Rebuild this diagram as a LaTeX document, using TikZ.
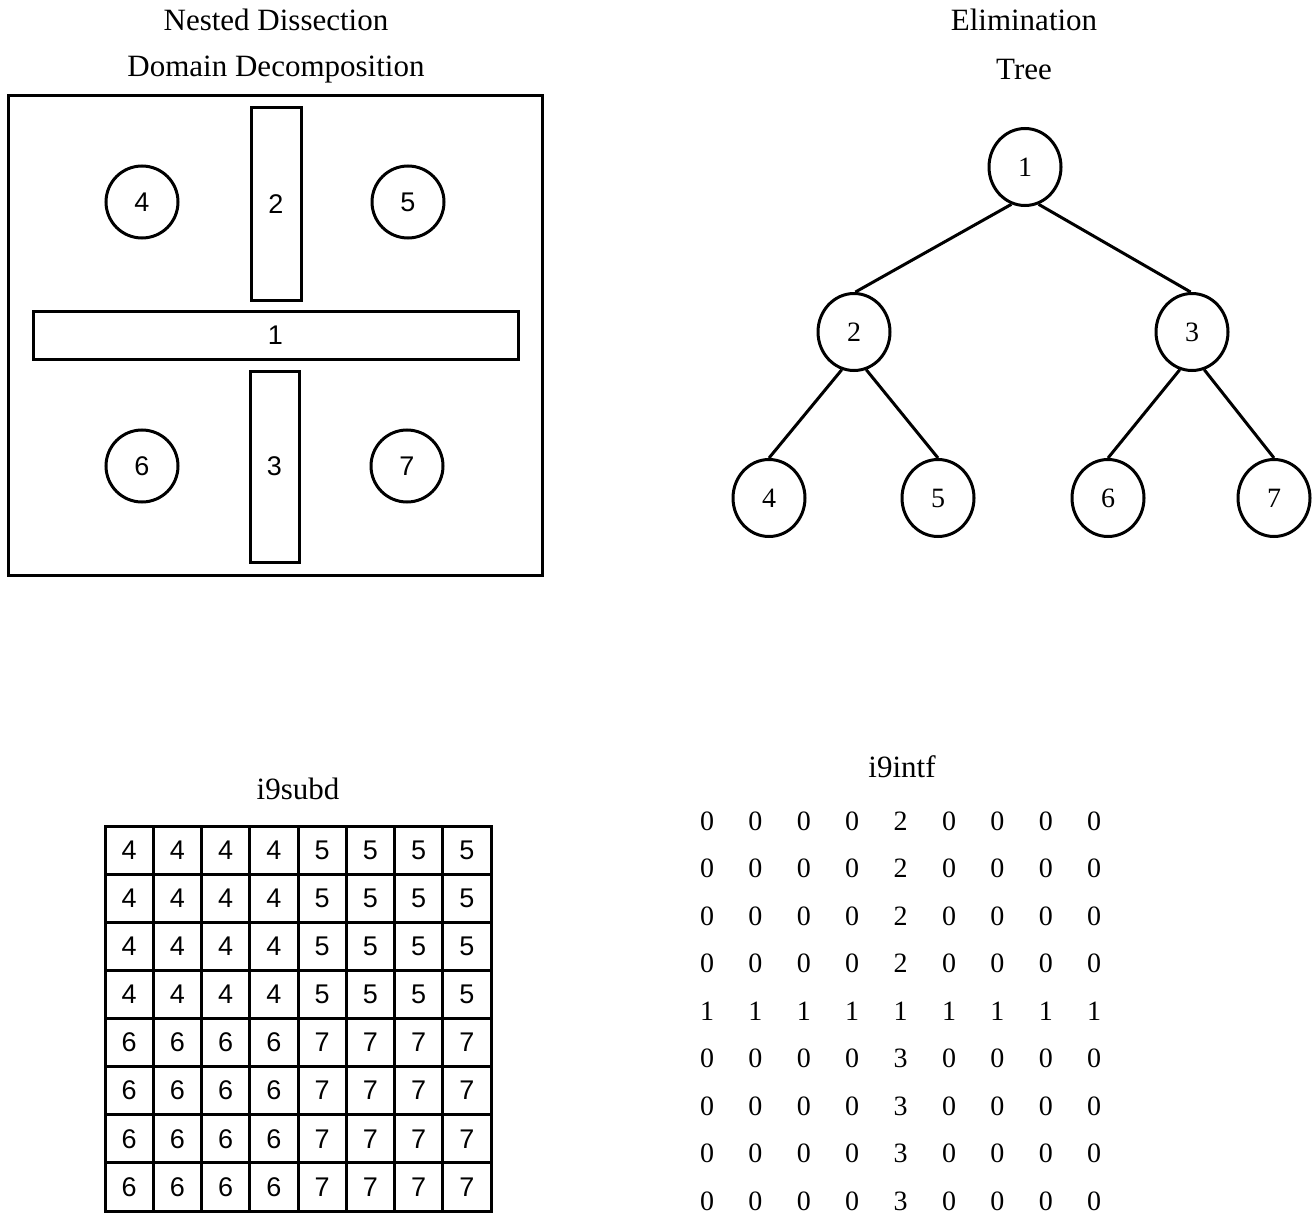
\documentclass[tikz,border=0pt]{standalone}
\usepackage{fontspec}
\setmainfont{Liberation Serif}
\newfontfamily\digsans{Liberation Sans}
\usetikzlibrary{shapes.geometric}
\begin{document}
\begin{tikzpicture}[x=1pt,y=-1pt,
  lw/.style={line width=3pt},
  ttl/.style={font=\fontsize{31}{36}\selectfont},
  lab/.style={font=\fontsize{28}{32}\selectfont},
  slab/.style={font=\digsans\fontsize{27}{30}\selectfont},
  dom/.style={draw,lw,circle,minimum size=72pt,inner sep=0pt,slab},
  sep/.style={draw,lw,rectangle,inner sep=0pt,slab},
  tnode/.style={draw,lw,ellipse,minimum width=72pt,minimum height=77pt,inner sep=0pt,lab},
  edge/.style={lw}]
\useasboundingbox (0,0) rectangle (1315,1217);
% titles
\node[ttl] (t1) at (276,20) {Nested Dissection};
\node[ttl] (t2) at (276,70) {Domain Decomposition};
\node[ttl] (t3) at (1024,20) {Elimination};
\node[ttl] (t4) at (1024,70) {Tree};
% domain decomposition
\node[draw,lw,rectangle,minimum width=534pt,minimum height=479pt,inner sep=0pt] (box) at (275,335.5) {};
\node[sep,minimum width=50pt,minimum height=192pt] (s2) at (276,204) {2};
\node[sep,minimum width=485pt,minimum height=48pt] (s1) at (275.5,335) {1};
\node[sep,minimum width=49pt,minimum height=191pt] (s3) at (274.5,466.5) {3};
\node[dom] (d4) at (142,202) {4};
\node[dom] (d5) at (408,202) {5};
\node[dom] (d6) at (142,466) {6};
\node[dom] (d7) at (407,466) {7};
% elimination tree
\node[tnode] (n1) at (1025,167) {1};
\node[tnode] (n2) at (854,332) {2};
\node[tnode] (n3) at (1192,332) {3};
\node[tnode] (n4) at (769,498) {4};
\node[tnode] (n5) at (938,498) {5};
\node[tnode] (n6) at (1108,498) {6};
\node[tnode] (n7) at (1274,498) {7};
\draw[edge] (n1.250) -- (n2.88);
\draw[edge] (n1.290) -- (n3.92);
\draw[edge] (n2.252) -- (n4.north);
\draw[edge] (n2.288) -- (n5.north);
\draw[edge] (n3.252) -- (n6.north);
\draw[edge] (n3.288) -- (n7.north);
% i9subd
\node[ttl] (t5) at (298,789) {i9subd};
\draw[lw] (105,826) rectangle (491,1211);
\foreach \i in {1,...,7} {
  \draw[lw] ({105+\i*48.25},826) -- ({105+\i*48.25},1211);
  \draw[lw] (105,{826+\i*48.125}) -- (491,{826+\i*48.125});
}
\foreach \r in {0,...,7} {
  \foreach \c in {0,...,7} {
    \pgfmathtruncatemacro{\v}{(\r<4 ? (\c<4 ? 4 : 5) : (\c<4 ? 6 : 7))}
    \node[slab] (g\r\c) at ({105+(\c+0.5)*48.25},{826+(\r+0.5)*48.125}) {\v};
  }
}
% i9intf
\node[ttl] (t6) at (902,767) {i9intf};
\foreach \r in {0,...,8} {
  \foreach \c in {0,...,8} {
    \pgfmathtruncatemacro{\v}{(\r==4 ? 1 : (\c==4 ? (\r<4 ? 2 : 3) : 0))}
    \node[lab] (m\r\c) at ({707+\c*48.4},{821+\r*47.5}) {\v};
  }
}
\end{tikzpicture}
\end{document}
